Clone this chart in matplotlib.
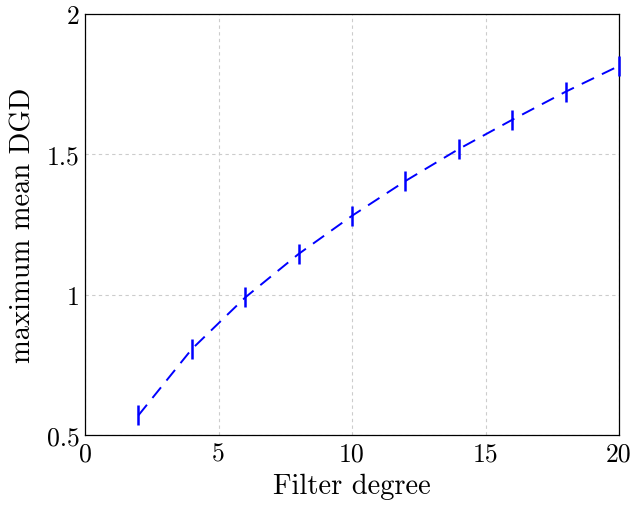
import matplotlib
matplotlib.use("Agg")
import matplotlib.pyplot as plt

# Maximum mean DGD as a function of the filter degree
filter_degree = [2, 4, 6, 8, 10, 12, 14, 16, 18, 20]
max_mean_dgd = [0.570, 0.806, 0.990, 1.145, 1.281, 1.405, 1.519, 1.623, 1.723, 1.815]

x_ticks = [0, 5, 10, 15, 20]
x_tick_labels = ["0", "5", "10", "15", "20"]
y_ticks = [0.5, 1.0, 1.5, 2.0]
y_tick_labels = ["0.5", "1", "1.5", "2"]

plt.rcParams["font.family"] = "serif"
plt.rcParams["font.serif"] = ["cmr10", "DejaVu Serif"]
plt.rcParams["axes.unicode_minus"] = False

fig = plt.figure(figsize=(6.34, 5.06), dpi=100)
ax = fig.add_axes([85 / 634, 70 / 506, 534 / 634, 421 / 506])

ax.plot(filter_degree, max_mean_dgd, color="#0000ff", linewidth=1.4,
        linestyle=(0, (7, 4.5)), marker="|", markersize=14.5,
        markeredgewidth=1.8, clip_on=False, zorder=3)

ax.set_xlim(0, 20)
ax.set_ylim(0.5, 2.0)
ax.set_xticks(x_ticks)
ax.set_xticklabels(x_tick_labels)
ax.set_yticks(y_ticks)
ax.set_yticklabels(y_tick_labels)

ax.grid(True, color="#cccccc", linestyle=(0, (3, 3)), linewidth=0.8)
ax.set_axisbelow(True)

for spine in ax.spines.values():
    spine.set_color("black")
    spine.set_linewidth(0.9)

ax.tick_params(axis="both", length=0, labelsize=18.5)
ax.tick_params(axis="x", pad=5)
ax.tick_params(axis="y", pad=4)

ax.set_xlabel("Filter degree", fontsize=20.5, labelpad=5)
ax.set_ylabel("maximum mean DGD", fontsize=20.5, labelpad=7)

fig.savefig("out.png", dpi=100, facecolor="white")
